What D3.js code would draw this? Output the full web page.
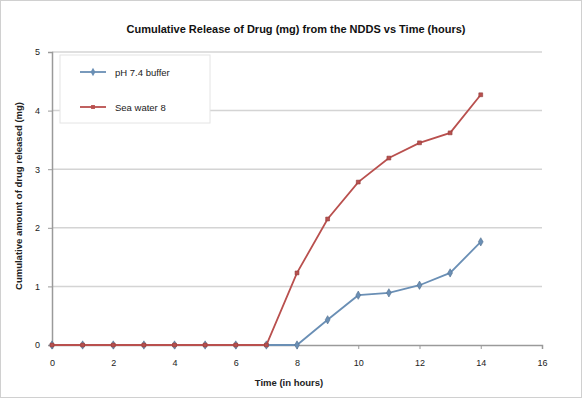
<!DOCTYPE html>
<html><head><meta charset="utf-8">
<script src="https://cdn.jsdelivr.net/npm/d3@7"></script>
<style>body{margin:0;background:#fff}svg{display:block;font-family:"Liberation Sans",Arial,sans-serif}</style>
</head><body><svg id="c" width="582" height="398"></svg>
<script>
const xValues = [0,1,2,3,4,5,6,7,8,9,10,11,12,13,14];
const seriesNames = ["pH 7.4 buffer", "Sea water 8"];
const seriesA = [0,0,0,0,0,0,0,0,0,0.43,0.85,0.89,1.02,1.23,1.76];
const seriesB = [0,0,0,0,0,0,0,0,1.23,2.15,2.78,3.19,3.45,3.62,4.27];
const xTicks = [0,2,4,6,8,10,12,14,16];
const yTicks = [0,1,2,3,4,5];
const title = "Cumulative Release of Drug (mg) from the NDDS vs Time (hours)";
const xTitle = "Time (in hours)";
const yTitle = "Cumulative amount of drug released (mg)";
const colors = ["#6A8FB5", "#B9504E"];

const svg = d3.select("#c");
svg.append("rect").attr("x",0.5).attr("y",0.5).attr("width",581).attr("height",397)
  .attr("fill","#fff").attr("stroke","#d0d0d0");
const m = {l:52, r:542, t:52, b:345};
const x = d3.scaleLinear().domain([0,16]).range([m.l,m.r]);
const y = d3.scaleLinear().domain([0,5]).range([m.b,m.t]);

svg.append("g").selectAll("line").data(yTicks.filter(d=>d>0)).join("line")
  .attr("x1",m.l).attr("x2",m.r).attr("y1",d=>y(d)).attr("y2",d=>y(d))
  .attr("stroke","#d4d4d4").attr("stroke-width",1.5);

const ya = svg.append("g").attr("transform",`translate(${m.l},0)`)
  .call(d3.axisLeft(y).tickValues(yTicks).tickSize(4).tickPadding(8).tickFormat(d3.format("d")));
const xa = svg.append("g").attr("transform",`translate(0,${m.b})`)
  .call(d3.axisBottom(x).tickValues(xTicks).tickSize(4).tickPadding(11).tickFormat(d3.format("d")));
[ya,xa].forEach(a=>{a.select(".domain").attr("stroke","#9a9a9a").attr("stroke-width",1.5);
  a.selectAll(".tick line").attr("stroke","#9a9a9a");
  a.selectAll("text").attr("font-size",9).attr("fill","#222");});

const line = d3.line().x((d,i)=>x(xValues[i])).y(d=>y(d));
[seriesA, seriesB].forEach((s,k)=>{
  svg.append("path").datum(s).attr("d",line).attr("fill","none")
    .attr("stroke",colors[k]).attr("stroke-width",1.8);
  const sym = k===0 ? d3.symbolDiamond : d3.symbolSquare;
  svg.append("g").selectAll("path").data(s).join("path")
    .attr("transform",(d,i)=>`translate(${x(xValues[i])},${y(d)})`)
    .attr("d",d3.symbol().type(sym).size(k===0?20:15))
    .attr("fill",colors[k]).attr("stroke",d3.color(colors[k]).darker(0.7)).attr("stroke-width",0.6);
});

// legend
const lg = svg.append("g");
lg.append("rect").attr("x",60).attr("y",55).attr("width",150).attr("height",68)
  .attr("fill","#fff").attr("stroke","#e4e4e4");
seriesNames.forEach((n,k)=>{
  const yy = 72 + k*35;
  lg.append("line").attr("x1",80).attr("x2",106).attr("y1",yy).attr("y2",yy)
    .attr("stroke",colors[k]).attr("stroke-width",1.8);
  lg.append("path").attr("transform",`translate(93,${yy})`)
    .attr("d",d3.symbol().type(k===0?d3.symbolDiamond:d3.symbolSquare).size(k===0?20:15))
    .attr("fill",colors[k]);
  lg.append("text").attr("x",115).attr("y",yy+3.5).attr("font-size",9.5).attr("fill","#222").text(n);
});

svg.append("text").attr("x",296).attr("y",33).attr("text-anchor","middle")
  .attr("font-size",11).attr("font-weight","bold").attr("fill","#111").text(title);
svg.append("text").attr("x",289).attr("y",386).attr("text-anchor","middle")
  .attr("font-size",9.5).attr("font-weight","bold").attr("fill","#222").text(xTitle);
svg.append("text").attr("transform","translate(22,196) rotate(-90)").attr("text-anchor","middle")
  .attr("font-size",9.5).attr("font-weight","bold").attr("fill","#222").text(yTitle);
</script></body></html>
